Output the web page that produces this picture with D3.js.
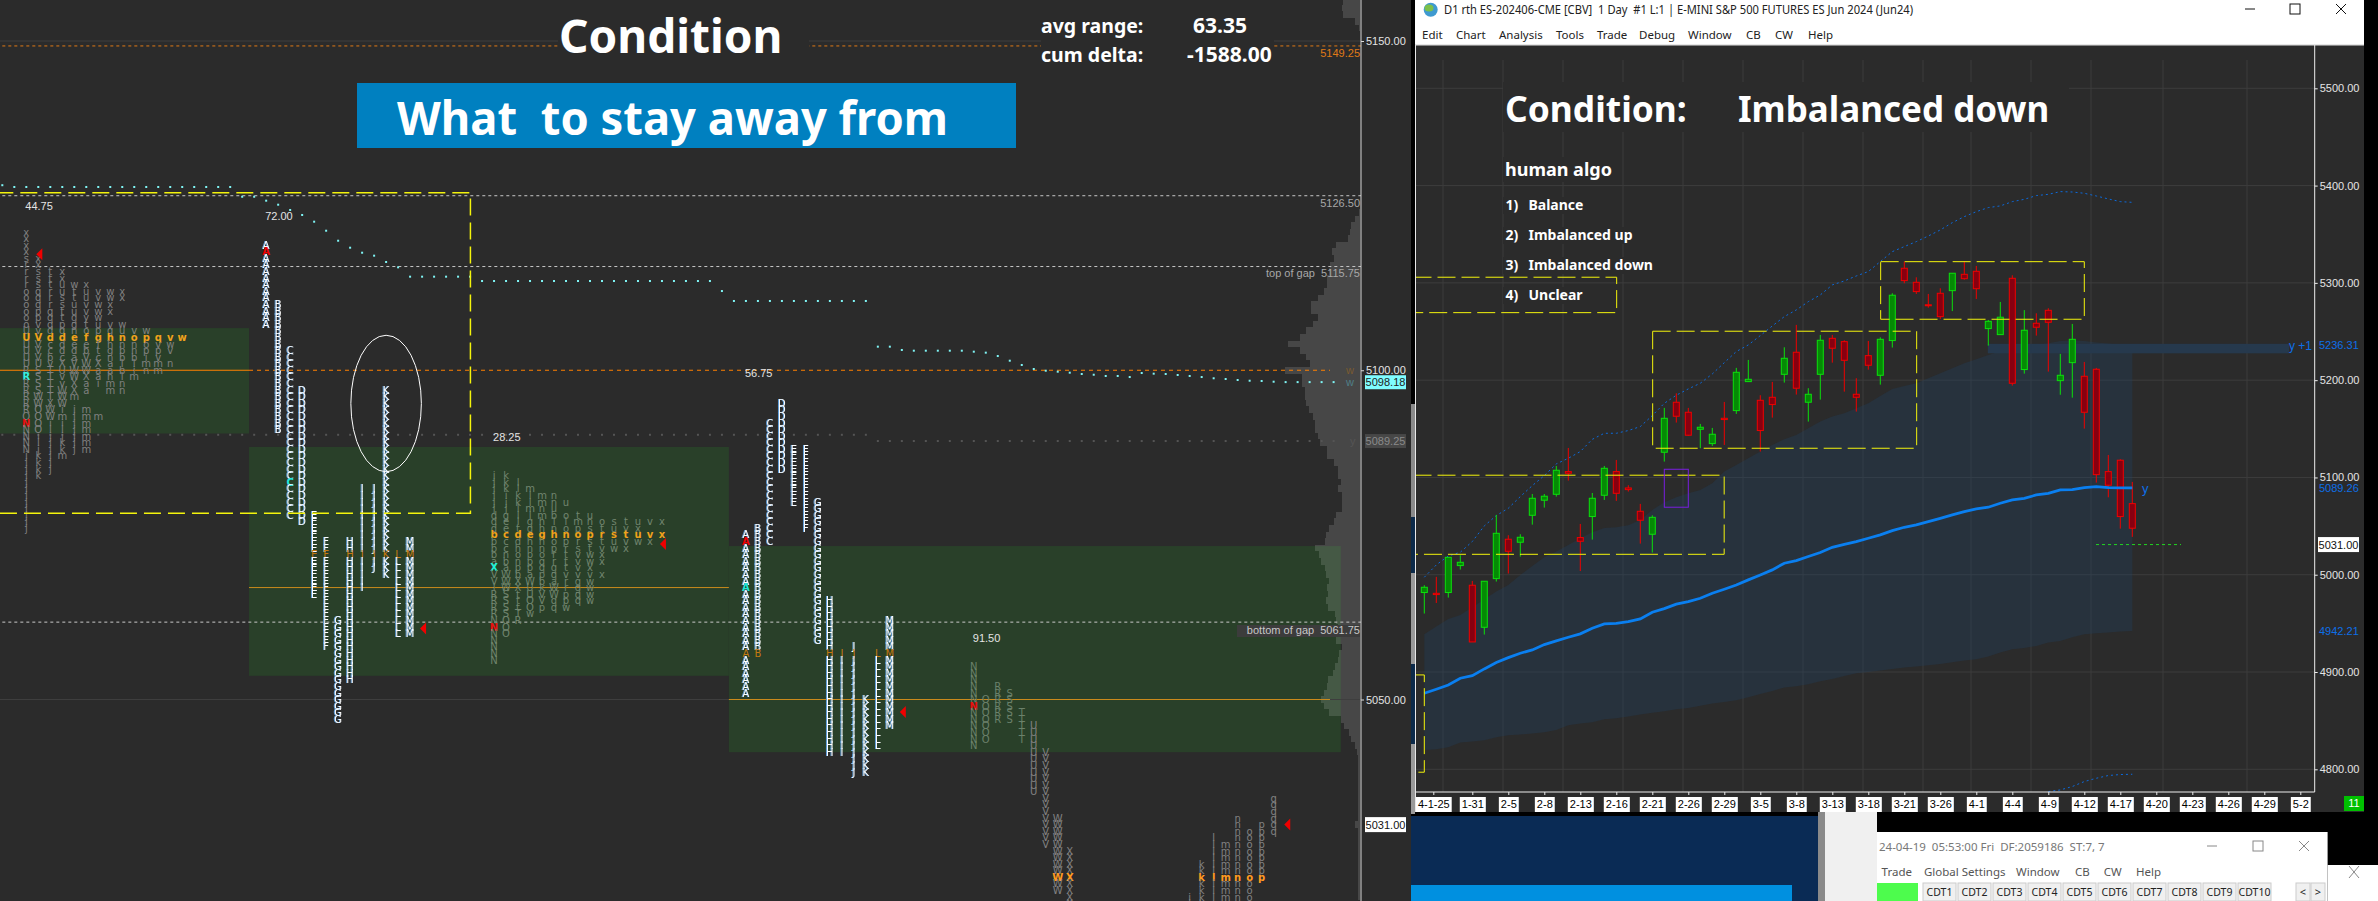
<!DOCTYPE html>
<html>
<head>
<meta charset="utf-8">
<script src="https://cdn.jsdelivr.net/npm/d3@7"></script>
<style>
body { margin: 0; background: #2b2b2b; overflow: hidden; }
svg { display: block; }
text { font-family: "Noto Sans", sans-serif; white-space: pre; }
.tpo { font-family: "DejaVu Sans", sans-serif; font-size: 10px; text-anchor: middle; }
.fringe { filter: drop-shadow(-0.8px 0 0 #5f9fdc); }
.lbl { font-family: "Liberation Sans", sans-serif; font-size: 11px; fill: #e4e4e4; }
.head { font-weight: 700; fill: #fff; }
</style>
</head>
<body>
<script>

/***** left chart data (30 min market profile) *****/
var s1Cols = [2,3,4,5,6,7,8,9,10,11,12,13,14,15];
var s1Tops = [5121,5117,5115,5115,5113,5113,5112,5112,5112,5106,5106,5105,5105,5105];
var s1Text = [
  "xxxxsrrrrooooooUUUUUURRRRRRRONNNNNjjjjjjjjjjjj",
  "xxsssqqqppvvVVVVUSSSSWWOOOOiijkkkk",
  "tttrrrqqqddccbvTTTTTXWWiijjjjjj",
  "xxuussttpgdddcXUvvWWWimiijkkm",
  "wttuuggneedaVWWXXm jjjjjjj",
  "xuuvvytofebVWWXaa  mmmmmmm",
  "vvwwwupgftcXaai    m",
  "wwxx vghhgnaahmm",
  "xx   wunnbbibinn",
  "vonnbiim",
  "wpopimn",
  "qvpvmm",
  "vwv n",
  "w"
];
var s1Poc = 5105;

var s2Cols = [22,23,24,25,26,27,28,29,30,31,32,33,34];
var s2Letters = ["A","B","C","D","E","F","G","H","I","J","K","L","M"];
var s2Tops = [5119,5110,5103,5097,5078,5074,5062,5074,5082,5082,5097,5072,5074];
var s2Bottoms = [5107,5091,5078,5077,5066,5058,5047,5053,5067,5070,5069,5060,5060];
var s2Poc = 5072;

var s3Cols = [41,42,43,44,45,46,47,48,49,50,51,52,53,54,55];
var s3Tops = [5084,5084,5083,5082,5081,5081,5080,5078,5078,5077,5077,5077,5077,5077,5077];
var s3Text = [
  "jjjjjjdddbbbbaXVViRRRRNNNNNNN",
  "kkkijjgeecccnbaWWWSSSSOOO",
  "llkklllt" + "ddhonpbXXtttTR",
  "mllmlggehnpppaWUUOOw",
  "mmnmhhghnoqqpbkVVp",
  "nnubinhoprrgqaWWqq",
  "u olonprtttvrrppw",
  "tmporsvvvvggqq",
  "unspstwwxvwwww",
  "otrtvxx x",
  "susuw",
  "tytvx",
  "uxuw",
  "v vx",
  "x x"
];
var s3Poc = 5075;

var s4Cols = [62,63,64,65,66,67,68,69,70,71,72,73,74];
var s4Letters = ["A","B","C","D","E","F","G","H","I","J","K","L","M"];
var s4Tops = [5075,5076,5092,5095,5088,5088,5080,5065,5057,5058,5050,5057,5062];
var s4Bottoms = [5051,5057,5074,5085,5080,5076,5059,5042,5042,5039,5039,5043,5046];
var s4Poc = 5057;

var s5Cols = [81,82,83,84,85,86,87,88,89,99,100,101,102,103,104,105,106];
var s5Letters = ["N","O","R","S","T","U","V","W","X","j","k","l","m","n","o","p","q"];
var s5Tops = [5055,5050,5052,5051,5048,5046,5042,5032,5027,5020,5025,5029,5028,5032,5030,5031,5035];
var s5Bottoms = [5043,5044,5047,5047,5044,5036,5028,5021,5019,5019,5019,5020,5019,5019,5019,5023,5030];
var s5Poc = 5023;

// single coloured letters: column, price, colour
var tpoMarks = [
  [2,5099,"#35f0e0"],[2,5092,"#e81010"],[22,5118,"#f00000"],[24,5083,"#20e8e0"],
  [41,5070,"#20f0d8"],[41,5061,"#e81010"],[62,5074,"#f00000"],[62,5067,"#20e8d8"],[81,5049,"#e81010"]
];

var arrowCols = [3.25,35.25,55.25,75.25,107.3];
var arrowPrices = [5117.6,5060.8,5073.6,5048.1,5031];

var rangeLabels = ["44.75","72.00","28.25","56.75","91.50"];
var rangeCols = [2,22,41,62,81];
var rangePrices = [5124.9,5123.4,5089.9,5099.6,5059.4];

// vwap dots, one per column from column 0
var vwapDots = [5128.1,5127.83,5127.83,5127.83,5127.83,5127.83,5127.83,5127.83,5127.83,5127.83,
  5127.83,5127.83,5127.83,5127.83,5127.83,5127.83,5127.83,5127.83,5127.83,5127.83,
  5126.35,5126.35,5125.75,5125.14,5124.34,5123.58,5122.56,5121.19,5119.67,5118.61,
  5117.85,5117.4,5116.44,5115.63,5114.21,5114.21,5114.21,5114.21,5114.21,5114.21,
  5113.55,5113.55,5113.55,5113.55,5113.55,5113.55,5113.55,5113.55,5113.55,5113.55,
  5113.55,5113.55,5113.55,5113.55,5113.55,5113.55,5113.55,5113.55,5113.55,5113.55,
  5112.03,5110.52,5110.52,5110.52,5110.52,5110.52,5110.52,5110.52,5110.52,5110.52,
  5110.52,5110.52,5110.52,5103.58,5103.58,5103.08,5102.97,5102.97,5102.97,5102.97,
  5102.97,5102.82,5102.67,5102.16,5101.45,5100.8,5100.19,5099.93,5099.78,5099.63,
  5099.43,5099.32,5099.13,5099.13,5098.97,5099.58,5099.48,5099.43,5099.28,5099.13,
  5098.97,5098.78,5098.67,5098.52,5098.41,5098.37,5098.26,5098.2,5098.2,5098.2,
  5098.2,5098.2];
var lowerDotsEarly = 5090.2, lowerDotsLate = 5089.25;

// volume profile, one value per point from the top price downwards
var volTop = 5156;
var volValues = [17,18,17,5,1,0,0,0,0,0,0,0,0,0,0,0,0,0,0,0,0,0,0,0,0,0,0,0,0,0,0,0,
  1,5,9,10,12,24,28,26,30,31,33,33,36,42,49,49,42,47,54,60,72,60,54,50,75,58,58,55,55,54,51,47,45,45,42,40,
  33,33,26,22,22,19,22,18,18,18,24,26,31,34,35,45,41,39,35,34,31,33,32,34,32,25,24,22,21,24,18,21,22,25,27,32,33,36,39,36,31,19,16,11,9,5,3,
  2,2,2,2,2,2,2,2,2,2,5,2,2,2,2,2,2,2,2,2,2,2];

var leftTicks = [5150,5100,5050];

/***** right chart data (daily bars) *****/
var barOpen = [4981.7,4980.9,4981.7,5009.4,4989.2,4946,4996,5036.5,5033.4,5061.1,5076.6,5082.7,5106,5038.2,5059.8,5081.7,5106,5089.2,5065.2,5041.6,
  5125.9,5177.3,5167,5149.5,5134.8,5160.8,5168.7,5198.5,5179.3,5182.4,5206,5228.7,5177.3,5206,5243,5239.6,5185.5,5225.2,5205,5240.7,
  5315,5300.6,5277.5,5289.3,5292,5308.8,5311.9,5253,5246.8,5304.7,5210.9,5258.5,5271.8,5199.5,5218,5204,5211.2,5106,5117.7,5073.1];
var barHigh = [4989.2,4997.8,5017.9,5020,4993.6,4993.3,5061.5,5040.6,5041.6,5083,5083,5111.8,5130.3,5052.2,5084,5111.8,5118,5092,5072.8,5061.1,
  5171.5,5186.5,5171.5,5155,5150.9,5177.6,5212.6,5220.8,5184.5,5198.2,5233.8,5256.8,5191.7,5246.5,5246.5,5241,5202,5240.3,5244,5289.3,
  5321.8,5305.7,5288.6,5294.4,5309.9,5321.8,5317.4,5261.9,5280.4,5307.8,5272,5268.7,5273.9,5227,5257.8,5218.7,5212.6,5123.1,5118.7,5095.4];
var barLow = [4960.1,4971,4976.5,5005.3,4930.9,4938.5,4993,5001.2,5018.6,5051.5,5069,5080.3,5096.8,5003.8,5036.1,5076.9,5075.9,5085.5,5032,5022.8,
  5116.3,5156.4,5143,5130,5132.4,5133.4,5165.3,5198.5,5126.6,5161.5,5197.5,5185.2,5157.4,5180,5218,5188.2,5167.7,5210.8,5195.4,5233.5,
  5299.6,5288.6,5274.5,5262.9,5271,5303.3,5283.5,5235.5,5246.8,5194.4,5206.7,5245.8,5208.8,5185,5182,5150.2,5094.7,5079.6,5047.4,5038.9];
var barClose = [4987.1,4979.6,5017.9,5012.8,4930.9,4993.3,5042.6,5024.1,5038.5,5078.6,5080.7,5107.4,5104.3,5034.4,5078.6,5109.4,5083.7,5087.5,5056,5059,
  5160.8,5162.9,5143.4,5151.6,5144.4,5159.5,5208.1,5200.9,5148.2,5174.9,5222.5,5191.7,5185.5,5241,5232.8,5220.4,5182.4,5215.3,5242,5287.3,
  5302.3,5291,5276.5,5265.3,5309.9,5304.3,5294,5260.5,5264.7,5196.8,5251.3,5254.4,5259.5,5205,5242,5167,5102.9,5092,5059.8,5047.8];

var maLine = [4878.2,4882.3,4886.7,4893.6,4896.3,4903.2,4909.7,4914.8,4919.3,4922.7,4928.2,4932,4935.7,4939.2,4945,4949.4,4950.1,4951.8,4954.6,4961.4,
  4965.2,4969.7,4972.4,4975.8,4981,4985.1,4989.5,4994.7,4999.8,5005,5011.8,5014.5,5018.7,5022.8,5028.2,5031.3,5034.1,5037.5,5041,5045.4,
  5048.8,5051.2,5054.6,5058,5061.5,5064.9,5067.6,5069.4,5073.5,5076.9,5078.6,5082,5083.7,5087.2,5087.5,5089.6,5090.6,5089.6,5089.2,5089.26];
var bandTop = [4938.8,4946.7,4954.6,4958.7,4966.6,4974.8,4982.7,4989.5,4999.8,5009,5018,5023.8,5030.6,5037.5,5043.7,5048.1,5048.8,5050.9,5056.3,5066.6,
  5074.5,5079.6,5083.7,5087.2,5094,5106,5112.9,5119.7,5126.6,5133.4,5139.2,5143.7,5150.6,5157.4,5162.6,5166,5171.1,5176.3,5183.8,5191,
  5194,5196.8,5201.9,5207.1,5212.2,5217.4,5221.5,5225.9,5229.4,5231.8,5233.8,5236.2,5237.9,5240.3,5240.7,5240.3,5238.6,5237.6,5236.5,5236.31];
var bandBottom = [4819.9,4820.6,4822.7,4827.5,4828.5,4829.9,4833,4835,4835.7,4836.7,4838.1,4840.5,4845.3,4847,4848.4,4851.5,4852.5,4854.2,4856.3,4858,
  4859.7,4861.7,4863.1,4865.2,4867.6,4869.3,4871,4874.1,4877.5,4880.6,4884,4885.4,4887.4,4890.5,4892.9,4896,4898.7,4900.1,4901.5,4903.2,
  4904.6,4905.6,4907,4908.3,4910,4911.8,4913.1,4915.9,4920,4923.4,4924.8,4926.8,4930.3,4932,4935.7,4938.8,4939.9,4940.5,4941.6,4942.21];
var upperDotted = [4997.4,5010.1,5019.3,5023.1,5034.1,5050.2,5060.8,5068.3,5080.3,5091.6,5101.9,5113.9,5119.7,5126.6,5139.2,5145.4,5145.4,5148.2,5152.3,5163.6,
  5176.2,5184.5,5191,5196.8,5206.4,5218,5229.4,5236.2,5245.8,5255.7,5265.3,5272.2,5280.7,5287.6,5297.9,5302,5307.1,5311.6,5321.9,5332.1,
  5337.3,5342.4,5348.2,5354.4,5361.9,5368.1,5373.2,5377.4,5379.1,5383.5,5385.9,5389.7,5391,5393.8,5393.4,5392.1,5389.3,5386.3,5383.5,5382.8];
var lowerDottedBars = [52,53,54,55,56,57,58,59];
var lowerDotted = [4777.1,4778.8,4782.3,4787.4,4790.8,4793.6,4794.6,4794.9];

var rightTicks = [5500,5400,5300,5200,5100,5000,4900,4800];
var dateLabels = ["4-1-25","1-31","2-5","2-8","2-13","2-16","2-21","2-26","2-29","3-5","3-8","3-13","3-18","3-21","3-26","4-1","4-4","4-9","4-12","4-17","4-20","4-23","4-26","4-29","5-2"];
var dateBars = [0.75,4,7,10,13,16,19,22,25,28,31,34,37,40,43,46,49,52,55,58,61,64,67,70,73];
var gridBars = [1.56,6.56,11.56,16.56,21.56,26.56,31.56,36.56,41.56,45.56,50.56,55.56,61.56,68.56];

// boxes as bar from, bar to, price top, price bottom
var yellowBoxes = [
  [-0.9,16.03,5305.8,5269.4],[19.03,41.03,5250.3,5130],[-0.9,24.99,5102.3,5021],
  [38.03,55,5321.8,5262.6],[-0.9,0,4897,4797]
];

/*****Setup *******/
var width = 2378, height = 901;

var svg = d3.select("body").append("svg")
  .attr("width", width)
  .attr("height", height);

svg.append("clipPath").attr("id", "rclip").append("rect")
  .attr("x", 1416).attr("y", 45).attr("width", 948).attr("height", 767);

var left = svg.append("g");
var right = svg.append("g");

// left scales
var yL = d3.scaleLinear().domain([5150, 5050]).range([41, 699.5]);
var xC = d3.scaleLinear().domain([2, 111]).range([26.3, 1333.6]);
var xV = d3.scaleLinear().domain([0, 100]).range([1360, 1260]);
var axisX = xV.range()[0] + 1;

function box(g, c0, c1, p0, p1) {
  return g.append("rect")
    .attr("x", xC(c0)).attr("y", yL(p0))
    .attr("width", xC(c1) - xC(c0)).attr("height", yL(p1) - yL(p0));
}

var zoneColor = "rgb(41,64,41)";
box(left, -0.5, 20.57, 5106.4, 5090.4).attr("fill", zoneColor);
box(left, 20.57, 60.58, 5088.35, 5053.6).attr("fill", zoneColor);
box(left, 60.58, 111.6, 5073.3, 5042).attr("fill", zoneColor);

// volume profile lies over the value areas, rows snapped so they do not stripe
function rowTop(i) { return Math.round(yL(volTop - i + 0.5)); }
left.selectAll(".vol")
  .data(volValues)
  .enter().append("rect")
  .attr("x", function(d) { return xV(d); })
  .attr("y", function(d, i) { return rowTop(i); })
  .attr("width", function(d) { return xV(0) - xV(d); })
  .attr("height", function(d, i) { return rowTop(i + 1) - rowTop(i); })
  .attr("shape-rendering", "crispEdges")
  .attr("fill", "#fff").attr("fill-opacity", 0.132);

function hline(g, price, c0, c1, color, dash, w) {
  return g.append("line")
    .attr("x1", xC(c0)).attr("x2", xC(c1))
    .attr("y1", yL(price)).attr("y2", yL(price))
    .attr("stroke", color)
    .attr("stroke-width", w || 1)
    .attr("stroke-dasharray", dash || null);
}

var axisCol = xC.invert(axisX);
hline(left, 5150, -0.5, axisCol, "#3e3e3e");
hline(left, 5050, -0.5, axisCol, "#3e3e3e");
hline(left, 5149.25, -0.5, axisCol, "#e07a16", "3,3");
hline(left, 5126.5, -0.5, axisCol, "#c8c8c8", "3,3");
hline(left, 5115.75, -0.5, axisCol, "#c8c8c8", "3,3");
hline(left, 5061.75, -0.5, axisCol, "#c8c8c8", "3,3");
hline(left, 5100, -0.5, 20.57, "#ff8000");
hline(left, 5100, 20.57, 110.7, "#ff8000", "4,4");
hline(left, 5067, 20.57, 60.58, "#c98a1c");
hline(left, 5050, 60.58, 110.7, "#c98a1c");

// lower dim dots and vwap dots
left.selectAll(".ldot")
  .data(d3.range(0, 112))
  .enter().append("rect")
  .attr("x", function(d) { return xC(d) - 1; })
  .attr("y", function(d) { return yL(d < 73 ? lowerDotsEarly : lowerDotsLate) - 1; })
  .attr("width", 2).attr("height", 2)
  .attr("fill", "#555");

left.selectAll(".vdot")
  .data(vwapDots)
  .enter().append("rect")
  .attr("x", function(d, i) { return xC(i) - 1; })
  .attr("y", function(d) { return yL(d) - 1; })
  .attr("width", 2).attr("height", 2)
  .attr("fill", "#7ff5f5");

// letters of one column
function drawColumn(col, top, str, fill, poc, pocFill, bright) {
  str.split("").forEach(function(ch, i) {
    if (ch == " ") return;
    var price = top - i;
    var isPoc = price == poc;
    var mark = tpoMarks.filter(function(m) { return m[0] == col && m[1] == price; })[0];
    left.append("text")
      .attr("class", bright && !isPoc && !mark ? "tpo fringe" : "tpo")
      .attr("x", xC(col)).attr("y", yL(price)).attr("dy", "0.36em")
      .attr("fill", mark ? mark[2] : isPoc ? pocFill : fill)
      .attr("font-weight", mark || (isPoc && !bright) ? 700 : null)
      .text(ch);
  });
}

s1Cols.forEach(function(c, i) { drawColumn(c, s1Tops[i], s1Text[i], "#808080", s1Poc, "#f0a21c"); });
s3Cols.forEach(function(c, i) { drawColumn(c, s3Tops[i], s3Text[i], "#71856f", s3Poc, "#f0a21c"); });
s2Cols.forEach(function(c, i) {
  drawColumn(c, s2Tops[i], s2Letters[i].repeat(s2Tops[i] - s2Bottoms[i] + 1), "#fff", s2Poc, "#c47a10", true);
});
s4Cols.forEach(function(c, i) {
  drawColumn(c, s4Tops[i], s4Letters[i].repeat(s4Tops[i] - s4Bottoms[i] + 1), "#fff", s4Poc, "#c47a10", true);
});
s5Cols.forEach(function(c, i) {
  var dim = i < 5 ? "#6b816b" : "#828282";
  drawColumn(c, s5Tops[i], s5Letters[i].repeat(s5Tops[i] - s5Bottoms[i] + 1), dim, s5Poc, "#ff9a20");
});

left.selectAll(".arrow")
  .data(arrowCols)
  .enter().append("path")
  .attr("fill", "#f00000")
  .attr("d", function(d, i) {
    var x = xC(d), y = yL(arrowPrices[i]);
    return "M" + (x - 5) + "," + y + "L" + (x + 1) + "," + (y - 6) + "L" + (x + 1) + "," + (y + 6) + "Z";
  });

left.selectAll(".range")
  .data(rangeLabels)
  .enter().append("text")
  .attr("class", "lbl")
  .attr("x", function(d, i) { return xC(rangeCols[i]) - 1; })
  .attr("y", function(d, i) { return yL(rangePrices[i]); })
  .attr("dy", "0.36em")
  .text(function(d) { return d; });

// marked up by hand on the screenshot
box(left, -0.5, 39.03, 5126.96, 5078.3)
  .attr("fill", "none")
  .attr("stroke", "#f4f40c")
  .attr("stroke-width", 1.5)
  .attr("stroke-dasharray", "17,7");

left.append("ellipse")
  .attr("cx", xC(32)).attr("cy", yL(5094.95))
  .attr("rx", xC(2.94) - xC(0)).attr("ry", yL(0) - yL(10.36))
  .attr("fill", "none").attr("stroke", "#fff").attr("stroke-width", 1);

// titles sit on background patches
left.append("rect").attr("x", 558).attr("y", 0).attr("width", 251).attr("height", 72).attr("fill", "#2b2b2b");
left.append("rect").attr("x", 1041).attr("y", 10).attr("width", 233).attr("height", 62).attr("fill", "#2b2b2b");
left.append("rect").attr("x", 357).attr("y", 83).attr("width", 659).attr("height", 65).attr("fill", "#0080c0");

left.append("text").attr("class", "head").attr("x", 559).attr("y", 53).attr("font-size", 46).text("Condition");
left.append("text").attr("class", "head").attr("x", 397).attr("y", 135).attr("font-size", 46)
  .attr("textLength", 551).attr("lengthAdjust", "spacingAndGlyphs").text("What  to stay away from");
left.append("text").attr("class", "head").attr("x", 1041).attr("y", 33).attr("font-size", 19.5).text("avg range:");
left.append("text").attr("class", "head").attr("x", 1193).attr("y", 33).attr("font-size", 21).text("63.35");
left.append("text").attr("class", "head").attr("x", 1041).attr("y", 62).attr("font-size", 19.5).text("cum delta:");
left.append("text").attr("class", "head").attr("x", 1187).attr("y", 62).attr("font-size", 21).text("-1588.00");

// right side labels of left chart
function priceTag(txt, price, color, offset) {
  left.append("text").attr("class", "lbl")
    .attr("x", 1360).attr("y", yL(price) + offset).attr("dy", "0.36em")
    .attr("text-anchor", "end").style("fill", color).text(txt);
}
left.append("rect").attr("x", 1237).attr("y", 625).attr("width", 123).attr("height", 12).attr("fill", "#3c3c3c");
priceTag("5149.25", 5149.25, "#e07a16", 7);
priceTag("5126.50", 5126.5, "#a8a8a8", 7);
priceTag("top of gap  5115.75", 5115.75, "#a8a8a8", 7);
priceTag("bottom of gap  5061.75", 5061.75, "#c8c8c8", 8);

left.append("text").attr("class", "lbl").attr("x", 1346).attr("y", yL(5100)).attr("dy", "0.36em").style("fill", "#7a5a30").text("w");
left.append("text").attr("class", "lbl").attr("x", 1346).attr("y", yL(5098.18)).attr("dy", "0.36em").style("fill", "#4f7f88").text("w");
left.append("text").attr("class", "lbl").attr("x", 1350).attr("y", yL(5089.25)).attr("dy", "0.36em").style("fill", "#555").text("y");

var leftAxis = left.append("g")
  .attr("transform", "translate(" + axisX + ",0)")
  .call(d3.axisRight(yL).tickValues(leftTicks).tickSize(3).tickPadding(2).tickFormat(d3.format(".2f")));
leftAxis.select(".domain").remove();
leftAxis.selectAll("line").attr("stroke", "#ddd");
leftAxis.selectAll("text").attr("class", "lbl").attr("font-family", null);
left.append("line").attr("x1", axisX).attr("x2", axisX).attr("y1", 0).attr("y2", height).attr("stroke", "#d8d8d8");

function tag(g, x, y, w, h, bg, color, txt) {
  g.append("rect").attr("x", x).attr("y", y).attr("width", w).attr("height", h).attr("fill", bg);
  g.append("text").attr("class", "lbl").attr("x", x + w / 2).attr("y", y + h / 2).attr("dy", "0.36em")
    .attr("text-anchor", "middle").style("fill", color).text(txt);
}
tag(left, 1365, yL(5098.18) - 7, 41, 14, "#7ffcff", "#222", "5098.18");
tag(left, 1365, yL(5089.25) - 7, 41, 14, "#474747", "#8a8a8a", "5089.25");
tag(left, 1365, yL(5031) - 7.5, 41, 15, "#fff", "#111", "5031.00");

/***** right window *****/
var xB = d3.scaleLinear().domain([0, 59]).range([1424.3, 2132.3]);
var yR = d3.scaleLinear().domain([5500, 4800]).range([88.3, 769.3]);
var axisR = 2314.7, axisB = 792;

right.append("rect").attr("x", 1411).attr("y", 0).attr("width", 967).attr("height", height).attr("fill", "#000");
[[404,517,"#8a8a8a"],[517,573,"#0c2a4a"],[573,664,"#9a9a9a"],[664,744,"#0c2a4a"],[744,814,"#9a9a9a"]].forEach(function(s) {
  right.append("rect").attr("x", 1411).attr("y", s[0]).attr("width", 4).attr("height", s[1] - s[0]).attr("fill", s[2]);
});
right.append("rect").attr("x", 1416).attr("y", 45).attr("width", 948).attr("height", 767).attr("fill", "#2b2b2b");

right.selectAll(".gx")
  .data(rightTicks)
  .enter().append("line")
  .attr("x1", 1416).attr("x2", axisR)
  .attr("y1", function(d) { return yR(d); })
  .attr("y2", function(d) { return yR(d); })
  .attr("stroke", "#3d3d3d");
right.selectAll(".gy")
  .data(gridBars)
  .enter().append("line")
  .attr("x1", function(d) { return xB(d); })
  .attr("x2", function(d) { return xB(d); })
  .attr("y1", 60).attr("y2", axisB)
  .attr("stroke", "#3d3d3d");

// text patches hide the grid
[[1503,82,566,50],[1503,157,109,25],[1503,197,82,17],[1503,227,130,17],[1503,257,150,17],[1503,287,80,17]].forEach(function(b) {
  right.append("rect").attr("x", b[0]).attr("y", b[1]).attr("width", b[2]).attr("height", b[3]).attr("fill", "#2b2b2b");
});

var area = d3.area()
  .x(function(d, i) { return xB(i); })
  .y0(function(d, i) { return yR(bandBottom[i]); })
  .y1(function(d) { return yR(d); });
right.append("path")
  .datum(bandTop)
  .attr("d", area)
  .attr("fill", "rgb(30,66,103)").attr("fill-opacity", 0.3);

// y+1 band
right.append("rect")
  .attr("x", xB(46.96)).attr("y", yR(5236.31) - 1)
  .attr("width", 2289 - xB(46.96)).attr("height", 9.5)
  .attr("fill", "#26394d");

var lineFn = d3.line()
  .x(function(d, i) { return xB(i); })
  .y(function(d) { return yR(d); });
right.append("path").datum(upperDotted).attr("d", lineFn)
  .attr("fill", "none").attr("stroke", "#0c6adc").attr("stroke-width", 1).attr("stroke-dasharray", "2,3");
right.append("path").datum(lowerDotted)
  .attr("d", d3.line().x(function(d, i) { return xB(lowerDottedBars[i]); }).y(function(d) { return yR(d); }))
  .attr("fill", "none").attr("stroke", "#0c6adc").attr("stroke-width", 1).attr("stroke-dasharray", "2,3");

// candles
var candles = right.selectAll(".candle")
  .data(d3.range(barOpen.length))
  .enter().append("g");
function isUp(i) { return barClose[i] >= barOpen[i]; }
candles.append("line")
  .attr("x1", function(i) { return xB(i); })
  .attr("x2", function(i) { return xB(i); })
  .attr("y1", function(i) { return yR(barHigh[i]); })
  .attr("y2", function(i) { return yR(barLow[i]); })
  .attr("stroke", function(i) { return isUp(i) ? "#0ce00c" : "#f00000"; })
  .attr("stroke-width", 1);
candles.append("rect")
  .attr("x", function(i) { return xB(i) - 3; })
  .attr("width", 6)
  .attr("y", function(i) { return yR(Math.max(barOpen[i], barClose[i])); })
  .attr("height", function(i) { return Math.max(1, Math.abs(yR(barOpen[i]) - yR(barClose[i]))); })
  .attr("fill", function(i) { return isUp(i) ? "#058a05" : "#880010"; })
  .attr("stroke", function(i) { return isUp(i) ? "#0ce00c" : "#f00000"; })
  .attr("stroke-width", 1);

right.append("path").datum(maLine).attr("d", lineFn)
  .attr("fill", "none").attr("stroke", "#0a7ff0").attr("stroke-width", 2.8);

right.selectAll(".ybox")
  .data(yellowBoxes)
  .enter().append("rect")
  .attr("clip-path", "url(#rclip)")
  .attr("x", function(d) { return xB(d[0]); })
  .attr("y", function(d) { return yR(d[2]); })
  .attr("width", function(d) { return xB(d[1]) - xB(d[0]); })
  .attr("height", function(d) { return yR(d[3]) - yR(d[2]); })
  .attr("fill", "none")
  .attr("stroke", "#f4f40c")
  .attr("stroke-width", 1)
  .attr("stroke-dasharray", "18,6");

right.append("rect")
  .attr("x", xB(20)).attr("y", yR(5108.4))
  .attr("width", xB(22) - xB(20)).attr("height", yR(5069.4) - yR(5108.4))
  .attr("fill", "none").attr("stroke", "#7a1ee0");

right.append("line")
  .attr("x1", 2096).attr("x2", 2181)
  .attr("y1", yR(5031)).attr("y2", yR(5031))
  .attr("stroke", "#22d522").attr("stroke-dasharray", "3,3");

// axes
var rAxis = right.append("g")
  .attr("transform", "translate(" + axisR + ",0)")
  .call(d3.axisRight(yR).tickValues(rightTicks).tickSize(3).tickPadding(2).tickFormat(d3.format(".2f")));
rAxis.select(".domain").remove();
rAxis.selectAll("line").attr("stroke", "#eee");
rAxis.selectAll("text").attr("class", "lbl").attr("font-family", null);
right.append("line").attr("x1", axisR).attr("x2", axisR).attr("y1", 45).attr("y2", axisB).attr("stroke", "#eee");
right.append("line").attr("x1", 1416).attr("x2", axisR).attr("y1", axisB).attr("y2", axisB).attr("stroke", "#eee");

var bAxis = right.append("g")
  .attr("transform", "translate(0," + axisB + ")")
  .call(d3.axisBottom(xB).tickValues(dateBars).tickSize(3).tickPadding(5)
    .tickFormat(function(d, i) { return dateLabels[i]; }));
bAxis.select(".domain").remove();
bAxis.selectAll("line").attr("stroke", "#eee");
bAxis.selectAll("text")
  .attr("class", "lbl").attr("font-family", null).style("fill", "#000")
  .each(function() {
    var b = this.getBBox();
    d3.select(this.parentNode).insert("rect", "text")
      .attr("x", b.x - 2).attr("y", 5).attr("width", b.width + 4).attr("height", 15).attr("fill", "#fff");
  });

function blueTag(txt, price, bg) {
  if (bg) right.append("rect").attr("x", 2318).attr("y", yR(price) - 6).attr("width", 42).attr("height", 12).attr("fill", "#2b2b2b");
  right.append("text").attr("class", "lbl")
    .attr("x", 2319).attr("y", yR(price)).attr("dy", "0.36em")
    .style("fill", "#0d6fe8").text(txt);
}
blueTag("5236.31", 5236.31);
blueTag("5089.26", 5089.26, true);
blueTag("4942.21", 4942.21);
right.append("text").attr("class", "lbl").attr("x", 2289).attr("y", yR(5236.31) + 5).style("font-size", "12px").style("fill", "#0d6fe8").text("y +1");
right.append("text").attr("class", "lbl").attr("x", 2142).attr("y", yR(5089.26) + 5).style("font-size", "13px").style("fill", "#0d6fe8").text("y");

tag(right, 2318, yR(5031) - 7.5, 41, 15, "#fff", "#111", "5031.00");
tag(right, 2344, 796, 20, 15, "#00c000", "#fff", "11");

// condition text
right.append("text").attr("class", "head").attr("x", 1505).attr("y", 121.5).attr("font-size", 35.4).text("Condition:");
right.append("text").attr("class", "head").attr("x", 1738).attr("y", 121.5).attr("font-size", 35).text("Imbalanced down");
right.append("text").attr("class", "head").attr("x", 1505).attr("y", 176).attr("font-size", 18).text("human algo");
var algoNums = ["1)","2)","3)","4)"];
var algoItems = ["Balance","Imbalanced up","Imbalanced down","Unclear"];
algoItems.forEach(function(t, i) {
  right.append("text").attr("class", "head").attr("x", 1505.5).attr("y", 210 + 30 * i).attr("font-size", 14).text(algoNums[i]);
  right.append("text").attr("class", "head").attr("x", 1528.5).attr("y", 210 + 30 * i).attr("font-size", 14).text(t);
});

// window title bar
right.append("rect").attr("x", 1415).attr("y", 0).attr("width", 949).attr("height", 44).attr("fill", "#fff");
right.append("rect").attr("x", 1415).attr("y", 44).attr("width", 949).attr("height", 1.5).attr("fill", "#e6e6e6");
right.append("line").attr("x1", 1415.5).attr("x2", 1415.5).attr("y1", 45).attr("y2", 812).attr("stroke", "#e8e8e8");
right.append("circle").attr("cx", 1430.7).attr("cy", 9.7).attr("r", 7).attr("fill", "#3f9ad0");
right.append("ellipse").attr("cx", 1429).attr("cy", 8).attr("rx", 4.5).attr("ry", 3.5).attr("fill", "#7cc04a");
right.append("text").attr("x", 1444).attr("y", 14).attr("font-size", 12).attr("fill", "#222")
  .attr("textLength", 469).attr("lengthAdjust", "spacingAndGlyphs")
  .text("D1 rth ES-202406-CME [CBV]  1 Day  #1 L:1 | E-MINI S&P 500 FUTURES ES Jun 2024 (Jun24)");

var menuNames = ["Edit","Chart","Analysis","Tools","Trade","Debug","Window","CB","CW","Help"];
var menuX = [1422,1456,1499,1556,1597,1639,1688,1746,1775,1808];
menuNames.forEach(function(m, i) {
  right.append("text").attr("x", menuX[i]).attr("y", 39).attr("font-size", 11.5).attr("fill", "#222").text(m);
});

function winButtons(g, xs, y, size, color) {
  g.append("line").attr("x1", xs[0] - size).attr("x2", xs[0] + size).attr("y1", y).attr("y2", y).attr("stroke", color);
  g.append("rect").attr("x", xs[1] - size).attr("y", y - size).attr("width", size * 2).attr("height", size * 2)
    .attr("fill", "none").attr("stroke", color);
  g.append("path").attr("d", "M" + (xs[2] - size) + "," + (y - size) + "L" + (xs[2] + size) + "," + (y + size) +
    "M" + (xs[2] + size) + "," + (y - size) + "L" + (xs[2] - size) + "," + (y + size))
    .attr("stroke", color).attr("fill", "none");
}
winButtons(right, [2250, 2295, 2341], 9, 5, "#111");

// windows behind, bottom of the screen
right.append("rect").attr("x", 1411).attr("y", 816).attr("width", 407).attr("height", 85).attr("fill", "#0a2b55");
right.append("rect").attr("x", 1411).attr("y", 885).attr("width", 381).attr("height", 16).attr("fill", "#0090e0");
right.append("rect").attr("x", 1818).attr("y", 812).attr("width", 7).attr("height", 89).attr("fill", "#8a8a8a");
right.append("rect").attr("x", 1825).attr("y", 812).attr("width", 52).attr("height", 89).attr("fill", "#f0f0f0");
right.append("rect").attr("x", 2327.6).attr("y", 865).attr("width", 50.4).attr("height", 36).attr("fill", "#fff");
right.append("path").attr("d", "M2349,866L2359,878M2359,866L2349,878").attr("stroke", "#888").attr("fill", "none");
right.append("rect").attr("x", 1877).attr("y", 832).attr("width", 450.6).attr("height", 69).attr("fill", "#fff");
right.append("text").attr("x", 1879).attr("y", 851).attr("font-size", 11.5).attr("fill", "#777")
  .text("24-04-19  05:53:00 Fri  DF:2059186  ST:7, 7");
winButtons(right, [2212, 2258, 2304], 846, 5, "#888");

var menu2 = ["Trade","Global Settings","Window","CB","CW","Help"];
var menu2X = [1881.6,1924,2016,2075,2103.7,2136];
menu2.forEach(function(m, i) {
  right.append("text").attr("x", menu2X[i]).attr("y", 876).attr("font-size", 11.5).attr("fill", "#555").text(m);
});
right.append("rect").attr("x", 1877).attr("y", 883).attr("width", 41).attr("height", 18).attr("fill", "#4dfc4d");
var cdtNames = ["CDT1","CDT2","CDT3","CDT4","CDT5","CDT6","CDT7","CDT8","CDT9","CDT10"];
cdtNames.forEach(function(c, i) {
  right.append("rect").attr("x", 1923 + 35 * i).attr("y", 883).attr("width", 33).attr("height", 18)
    .attr("fill", "#f0f0f0").attr("stroke", "#ccc");
  right.append("text").attr("x", 1939.5 + 35 * i).attr("y", 896).attr("font-size", 10.5)
    .attr("text-anchor", "middle").attr("fill", "#222").text(c);
});
["<", ">"].forEach(function(c, i) {
  right.append("rect").attr("x", 2296 + 15 * i).attr("y", 883).attr("width", 14).attr("height", 18)
    .attr("fill", "#f0f0f0").attr("stroke", "#ccc");
  right.append("text").attr("x", 2303 + 15 * i).attr("y", 896).attr("font-size", 11)
    .attr("text-anchor", "middle").attr("fill", "#222").text(c);
});

</script>
</body>
</html>
